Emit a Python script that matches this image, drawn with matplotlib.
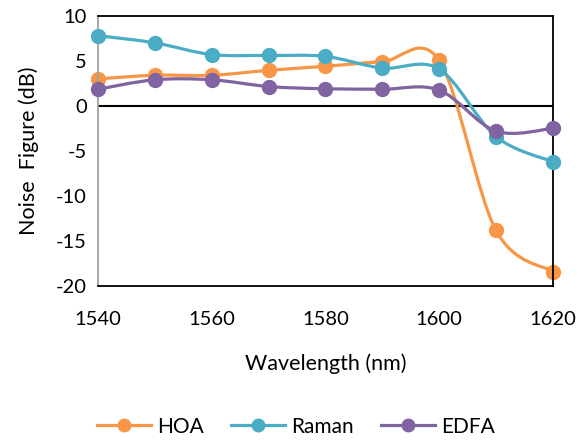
import matplotlib
matplotlib.use("Agg")
import matplotlib.pyplot as plt
from matplotlib.path import Path
from matplotlib.patches import PathPatch
from matplotlib.lines import Line2D

wavelength = [1540, 1550, 1560, 1570, 1580, 1590, 1600, 1610, 1620]
hoa = [3.0, 3.4, 3.4, 3.95, 4.4, 4.9, 5.05, -13.8, -18.4]
raman = [7.8, 7.0, 5.7, 5.6, 5.5, 4.2, 4.1, -3.4, -6.2]
edfa = [1.85, 2.9, 2.9, 2.15, 1.9, 1.85, 1.75, -2.8, -2.5]

series = [("HOA", hoa, "#F79646"), ("Raman", raman, "#4BACC6"), ("EDFA", edfa, "#8064A2")]

plt.rcParams['font.family'] = ['Lato', 'DejaVu Sans']
plt.rcParams['axes.unicode_minus'] = False


def smooth_path(xs, ys):
    # Excel-like smoothed line: cubic Bezier segments through each point
    n = len(xs)
    verts = [(xs[0], ys[0])]
    codes = [Path.MOVETO]
    for i in range(n - 1):
        i0 = max(i - 1, 0)
        i3 = min(i + 2, n - 1)
        c1 = (xs[i] + (xs[i + 1] - xs[i0]) / 6, ys[i] + (ys[i + 1] - ys[i0]) / 6)
        c2 = (xs[i + 1] - (xs[i3] - xs[i]) / 6, ys[i + 1] - (ys[i3] - ys[i]) / 6)
        verts += [c1, c2, (xs[i + 1], ys[i + 1])]
        codes += [Path.CURVE4] * 3
    return Path(verts, codes)


fig = plt.figure(figsize=(5.8, 4.4), dpi=100)
ax = fig.add_axes([0.169, 0.35, 0.784, 0.614])

ax.axhline(0, color="black", linewidth=1.5, zorder=1)

handles = []
for k, (name, vals, col) in enumerate(series):
    ax.add_patch(PathPatch(smooth_path(wavelength, vals), fill=False, edgecolor=col,
                           linewidth=2.3, zorder=2 + k, capstyle="round"))
    ax.plot(wavelength, vals, linestyle="none", marker="o", markersize=10,
            color=col, zorder=2 + k, clip_on=False)
    handles.append(Line2D([], [], color=col, linewidth=2.3, marker="o", markersize=9))

ax.set_xlim(1540, 1620)
ax.set_ylim(-20, 10)
ax.set_xticks([1540, 1560, 1580, 1600, 1620])
ax.set_yticks([-20, -15, -10, -5, 0, 5, 10])
ax.tick_params(length=0, labelsize=14.5)
ax.tick_params(axis="x", pad=18)
ax.tick_params(axis="y", pad=8)

for s in ["top", "right", "bottom"]:
    ax.spines[s].set_color("black")
    ax.spines[s].set_linewidth(1.3)
ax.spines["left"].set_color("#A0A0A0")
ax.spines["left"].set_linewidth(1.3)

ax.set_xlabel("Wavelength (nm)", fontsize=15.5, labelpad=18)
ax.set_ylabel("Noise  Figure (dB)", fontsize=15.5, labelpad=12)

fig.legend(handles, [s[0] for s in series], loc="lower center", ncol=3,
           bbox_to_anchor=(0.51, -0.035), frameon=False, fontsize=15,
           handlelength=2.6, columnspacing=1.3, handletextpad=0.3)

fig.savefig("out.png")
